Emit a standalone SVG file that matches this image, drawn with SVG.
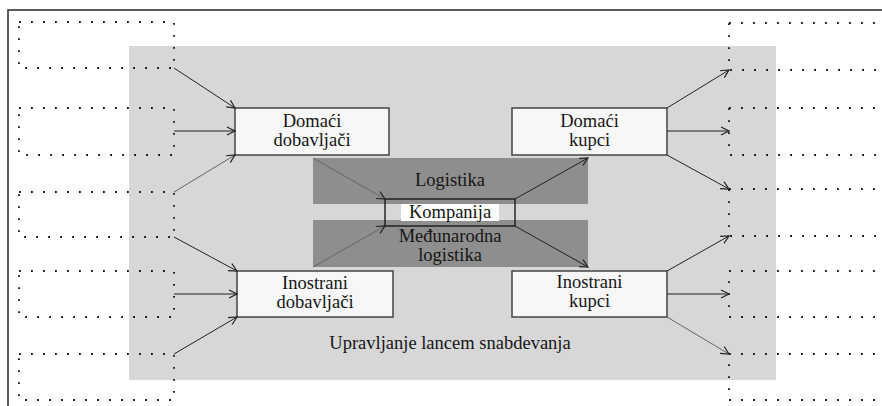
<svg xmlns="http://www.w3.org/2000/svg" width="882" height="406" viewBox="0 0 882 406">
<style>
.dot{fill:none;stroke:#111;stroke-width:1.8;stroke-dasharray:1.8 10.2}
.box{fill:#f7f7f7;stroke:#444;stroke-width:1.5}
.bar{fill:#8e8e8e}
.t{font-family:"Liberation Serif","Times New Roman",serif;font-size:18.5px;fill:#151515;text-anchor:middle}
.c{fill:none;stroke:#222;stroke-width:1}
.cl{fill:none;stroke:#666;stroke-width:1}
</style>
<defs>
<marker id="ah" markerUnits="userSpaceOnUse" markerWidth="12" markerHeight="12" refX="9" refY="5" orient="auto">
<path d="M1,1 L9,5 L1,9" fill="none" stroke="#222" stroke-width="1.2"/>
</marker>
</defs>
<rect x="0" y="0" width="882" height="406" fill="#ffffff"/>
<rect x="8" y="10" width="900" height="420" fill="none" stroke="#333" stroke-width="1.6"/>
<rect id="scm-area" x="129" y="46" width="647" height="334" fill="#d7d7d7"/>
<g id="left-sources">
<rect id="ls1" class="dot" x="19" y="22" width="155" height="46"/>
<rect id="ls2" class="dot" x="19" y="108" width="155" height="47"/>
<rect id="ls3" class="dot" x="19" y="192" width="155" height="45"/>
<rect id="ls4" class="dot" x="19" y="271" width="155" height="46"/>
<rect id="ls5" class="dot" x="19" y="354" width="155" height="46"/>
</g>
<g id="right-targets">
<rect id="rt1" class="dot" x="729" y="23" width="200" height="47"/>
<rect id="rt2" class="dot" x="729" y="108" width="200" height="47"/>
<rect id="rt3" class="dot" x="729" y="189" width="200" height="47"/>
<rect id="rt4" class="dot" x="729" y="271" width="200" height="46"/>
<rect id="rt5" class="dot" x="729" y="354" width="200" height="46"/>
</g>
<g id="logistika">
<rect class="bar" x="313" y="158" width="275" height="46"/>
<text class="t" x="450" y="186">Logistika</text>
</g>
<g id="medjunarodna-logistika">
<rect class="bar" x="313" y="220" width="275" height="47"/>
<text class="t" x="450" y="242">Međunarodna</text>
<text class="t" x="450" y="261">logistika</text>
</g>
<g id="kompanija">
<rect x="385" y="199" width="130" height="27" fill="none" stroke="#111" stroke-width="1.3"/>
<rect x="401" y="204" width="98" height="17" fill="#ffffff"/>
<text class="t" x="450" y="218">Kompanija</text>
</g>
<g id="domaci-dobavljaci">
<rect class="box" x="235" y="108" width="154" height="47"/>
<text class="t" x="312" y="127">Domaći</text>
<text class="t" x="312" y="146">dobavljači</text>
</g>
<g id="inostrani-dobavljaci">
<rect class="box" x="237" y="271" width="156" height="46"/>
<text class="t" x="315" y="289">Inostrani</text>
<text class="t" x="315" y="308">dobavljači</text>
</g>
<g id="domaci-kupci">
<rect class="box" x="512" y="108" width="155" height="47"/>
<text class="t" x="589.5" y="127">Domaći</text>
<text class="t" x="589.5" y="146">kupci</text>
</g>
<g id="inostrani-kupci">
<rect class="box" x="512" y="271" width="155" height="46"/>
<text class="t" x="589.5" y="288">Inostrani</text>
<text class="t" x="589.5" y="307">kupci</text>
</g>
<g id="label-scm">
<text class="t" x="450" y="349">Upravljanje lancem snabdevanja</text>
</g>
<g id="connectors">
<line class="c" x1="174" y1="68" x2="235" y2="108" marker-end="url(#ah)"/>
<line class="c" x1="174" y1="131" x2="235" y2="131" marker-end="url(#ah)"/>
<line class="cl" x1="174" y1="192" x2="235" y2="155" marker-end="url(#ah)"/>
<line class="c" x1="174" y1="237" x2="237" y2="271" marker-end="url(#ah)"/>
<line class="c" x1="174" y1="294" x2="237" y2="294" marker-end="url(#ah)"/>
<line class="c" x1="174" y1="354" x2="237" y2="317" marker-end="url(#ah)"/>
<line class="c" x1="667" y1="108" x2="729" y2="70" marker-end="url(#ah)"/>
<line class="c" x1="667" y1="131" x2="729" y2="131" marker-end="url(#ah)"/>
<line class="c" x1="667" y1="155" x2="729" y2="189" marker-end="url(#ah)"/>
<line class="c" x1="667" y1="271" x2="729" y2="236" marker-end="url(#ah)"/>
<line class="c" x1="667" y1="294" x2="729" y2="294" marker-end="url(#ah)"/>
<line class="cl" x1="667" y1="317" x2="729" y2="354" marker-end="url(#ah)"/>
<line class="cl" x1="313" y1="158" x2="385" y2="199" marker-end="url(#ah)"/>
<line class="cl" x1="313" y1="267" x2="385" y2="226" marker-end="url(#ah)"/>
<line class="c" x1="515" y1="199" x2="588" y2="158" marker-end="url(#ah)"/>
<line class="c" x1="515" y1="226" x2="588" y2="267" marker-end="url(#ah)"/>
</g>
</svg>
